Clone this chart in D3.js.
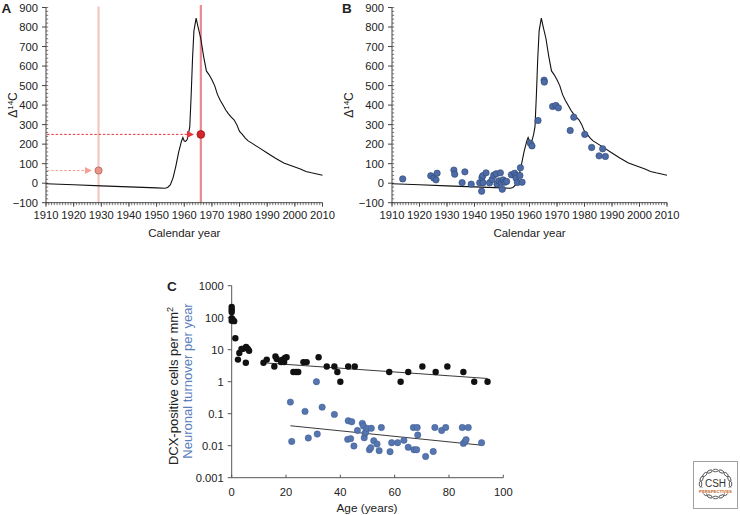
<!DOCTYPE html>
<html><head><meta charset="utf-8">
<script src="https://cdn.jsdelivr.net/npm/d3@7"></script>
<style>
body{margin:0;background:#fff}
svg{display:block}
text{font-family:"Liberation Sans",Arial,Helvetica,sans-serif;fill:#222}
</style>
</head><body>
<svg id="chart" width="740" height="515"></svg>
<script>
// ---- Data ----
const curveYears = [1910,1920,1930,1940,1950,1953,1954,1955,1956,1957,1958,1959,1959.5,1960,1960.5,1961,1961.5,1962,1962.5,1963,1963.5,1964.3,1965,1966,1967,1968,1969,1970,1971,1972,1973,1974,1975,1976,1977,1978,1979,1980,1981,1982,1983,1985,1987,1990,1993,1996,2000,2002,2004,2006,2008,2010];
const curveValues = [-3,-8,-14,-19,-24,-26,-22,-8,30,90,160,215,234,216,214,222,250,290,450,640,780,846,800,740,650,575,555,530,500,455,425,400,375,355,338,325,300,265,250,232,218,200,182,155,128,103,83,73,60,53,47,41];

const yearTicks = [1910,1920,1930,1940,1950,1960,1970,1980,1990,2000,2010];
const c14Ticks = [-100,0,100,200,300,400,500,600,700,800,900];

// panel A markers: birth years and the Δ14C they map to
const markerYears = [1929,1966];
const markerValues = [65,250];
const markerLabels = ["light","dark"];

// panel B measured samples
const sampleYears = [1913.9,1924.1,1925.2,1926,1926.4,1932.5,1932.8,1935.5,1936.5,1938.8,1941.9,1942.6,1942.7,1943,1943.1,1944.2,1945.5,1946.4,1947,1947.9,1948.2,1948.9,1949.4,1949.8,1950.1,1950.4,1951,1951.7,1953.4,1954.6,1955,1955.1,1955.6,1956.5,1956.7,1957.3,1960.3,1960.9,1963.1,1965.3,1965.4,1968.4,1969.6,1970.5,1974.8,1976.1,1980.1,1982.6,1985.3,1986.6,1987.6];
const sampleValues = [22,38,26,17,51,67,46,3,58,-5,2,-41,29,38,2,53,2,19,41,48,-5,12,53,3,-31,17,5,9,43,51,38,26,3,39,79,5,205,191,321,528,518,393,398,386,270,338,250,183,140,176,137];

// panel C
const dcxAges = [0,0,0,0,0.4,0.9,0,1.35,2.3,2.8,3.6,4.0,5.2,5.3,5.9,6.4,11.7,12.9,15.7,16.1,16.6,18.2,18.7,19.3,19.6,20.2,22.7,23.7,24.5,26.4,27.6,32,35,37.8,38.9,40,42.9,45.3,58,62.2,65,70.2,75.1,79.4,85.3,89.3,94.2];
const dcxValues = [216,179,150,97,87,78,80,22.8,4.9,7.9,10.6,10.6,3.9,12.2,10.8,9.3,3.9,4.9,3.0,6.1,5.1,4.1,4.9,4.1,5.5,5.8,2.0,2.0,2.0,4.1,4.1,5.8,3.0,3.0,2.0,1.0,3.0,3.0,2.0,1.0,2.0,3.0,2.0,3.0,2.0,1.0,1.0];
const turnoverAges = [31.2,21.6,22.1,27,28.2,31.5,33.3,37.8,42.9,44.2,42.7,43.8,45,46.3,48.1,48.5,48.8,49.1,49.4,49.9,50.7,51.2,51.4,52.3,53.5,54.3,55.1,58.3,58.9,61.1,63.4,65,66.9,67.1,68.1,68.3,68.5,71.4,74.2,74.8,77.3,78.8,84.9,85.3,85.9,86.3,87.1,92];
const turnoverValues = [1.0,0.23,0.0136,0.118,0.0174,0.0231,0.16,0.095,0.060,0.056,0.0158,0.0166,0.0098,0.030,0.050,0.041,0.0177,0.0243,0.027,0.0347,0.0075,0.0087,0.035,0.0143,0.0113,0.0070,0.037,0.0065,0.0124,0.0124,0.0147,0.0089,0.037,0.0075,0.0075,0.037,0.0215,0.0046,0.0066,0.037,0.030,0.037,0.037,0.0118,0.0133,0.0155,0.037,0.0124];
const dcxTrendAges = [11.7,94.2];
const dcxTrendValues = [3.9,1.26];
const turnoverTrendAges = [21.6,91.4];
const turnoverTrendValues = [0.042,0.0105];
const ageTicks = [0,20,40,60,80,100];
const logTicks = [0.001,0.01,0.1,1,10,100,1000];
const logTickLabels = ["0.001","0.01","0.1","1","10","100","1000"];

// ---- Drawing ----
const svg = d3.select("#chart");
const AXIS = "#444";

function yearAxis(g, x, y0, y) {
  const [x0, x1] = x.range();
  g.append("line").attr("x1", x0).attr("x2", x1).attr("y1", y0).attr("y2", y0).attr("stroke", AXIS).attr("stroke-width", 1);
  const minor = d3.range(1910, 2011, 1);
  g.selectAll("line.mn").data(minor).join("line").attr("class","mn")
    .attr("x1", d => x(d)).attr("x2", d => x(d)).attr("y1", y0).attr("y2", y0 + 2.5)
    .attr("stroke", AXIS).attr("stroke-width", 0.7);
  g.selectAll("line.mj").data(yearTicks).join("line").attr("class","mj")
    .attr("x1", d => x(d)).attr("x2", d => x(d)).attr("y1", y0).attr("y2", y0 + 4)
    .attr("stroke", AXIS).attr("stroke-width", 1);
  g.selectAll("text.tl").data(yearTicks).join("text").attr("class","tl")
    .attr("x", d => x(d)).attr("y", y0 + 16.5).attr("text-anchor","middle")
    .attr("font-size", 11.2).text(d => d);
  const [ya, yb] = y.range();
  const xa = x0;
  g.append("line").attr("x1", xa).attr("x2", xa).attr("y1", ya).attr("y2", yb).attr("stroke", AXIS).attr("stroke-width", 1);
  const yminor = d3.range(-100, 901, 20);
  g.selectAll("line.ymn").data(yminor).join("line").attr("class","ymn")
    .attr("x1", xa).attr("x2", xa + 2.2).attr("y1", d => y(d)).attr("y2", d => y(d))
    .attr("stroke", AXIS).attr("stroke-width", 0.7);
  g.selectAll("line.ymj").data(c14Ticks).join("line").attr("class","ymj")
    .attr("x1", xa - 4).attr("x2", xa).attr("y1", d => y(d)).attr("y2", d => y(d))
    .attr("stroke", AXIS).attr("stroke-width", 1);
  g.selectAll("text.ytl").data(c14Ticks).join("text").attr("class","ytl")
    .attr("x", xa - 8).attr("y", d => y(d)).attr("dy","0.36em").attr("text-anchor","end")
    .attr("font-size", 11.2).text(d => d < 0 ? "\u2212" + Math.abs(d) : d);
  g.append("text").attr("x", (x0 + x1) / 2).attr("y", 237).attr("text-anchor","middle")
    .attr("font-size", 11.5).text("Calendar year");
}

function deltaLabel(g, cx, cy) {
  const t = g.append("text").attr("transform", `translate(${cx},${cy}) rotate(-90)`)
    .attr("text-anchor","middle").attr("font-size", 12);
  t.append("tspan").text("\u0394");
  t.append("tspan").attr("dy", -4.5).attr("font-size", 8).text("14");
  t.append("tspan").attr("dy", 4.5).text("C");
}

const yC14 = d3.scaleLinear().domain([-100, 900]).range([202.7, 7.5]);
const curvePts = curveYears.map((yr, i) => [yr, curveValues[i]]);

// ---------- Panel A ----------
const xA = d3.scaleLinear().domain([1910, 2010]).range([46, 322.5]);
const gA = svg.append("g");
const markerColors = { light: { line: "#f3c7c1", arrow: "#f4a294", fill: "#e99585", stroke: "#b3655a" },
                       dark:  { line: "#e98a90", arrow: "#e3373b", fill: "#d4242c", stroke: "#9c1a1f" } };
markerYears.forEach((yr, i) => {
  const c = markerColors[markerLabels[i]];
  gA.append("line").attr("x1", xA(yr)).attr("x2", xA(yr)).attr("y1", i === 0 ? 6.5 : 5).attr("y2", yC14.range()[0])
    .attr("stroke", c.line).attr("stroke-width", 2.2);
});
yearAxis(gA, xA, 202.7, yC14);
gA.append("path").datum(curvePts)
  .attr("d", d3.line().x(d => xA(d[0])).y(d => yC14(d[1])))
  .attr("fill","none").attr("stroke","#111").attr("stroke-width", 1.1);
markerYears.forEach((yr, i) => {
  const c = markerColors[markerLabels[i]];
  const px = xA(yr), py = yC14(markerValues[i]);
  const r = i === 0 ? 3.6 : 3.9;
  const tip = px - r - 3;
  gA.append("line").attr("x1", xA.range()[0] + 1).attr("x2", tip - 5).attr("y1", py).attr("y2", py)
    .attr("stroke", c.arrow).attr("stroke-width", 1).attr("stroke-dasharray", "2.5,1.8");
  gA.append("path").attr("d", `M${tip},${py} L${tip - 7},${py - 3.6} L${tip - 7},${py + 3.6} Z`).attr("fill", c.arrow);
  gA.append("circle").attr("cx", px).attr("cy", py).attr("r", r)
    .attr("fill", c.fill).attr("stroke", c.stroke).attr("stroke-width", 0.8);
});
deltaLabel(gA, 17, 105);
gA.append("text").attr("x", 1.5).attr("y", 13).attr("font-size", 13.5).attr("font-weight","bold").text("A");

// ---------- Panel B ----------
const xB = d3.scaleLinear().domain([1910, 2010]).range([392, 667]);
const gB = svg.append("g");
yearAxis(gB, xB, 202.7, yC14);
gB.append("path").datum(curvePts)
  .attr("d", d3.line().x(d => xB(d[0])).y(d => yC14(d[1])))
  .attr("fill","none").attr("stroke","#111").attr("stroke-width", 1.1);
gB.selectAll("circle").data(sampleYears.map((yr, i) => [yr, sampleValues[i]])).join("circle")
  .attr("cx", d => xB(d[0])).attr("cy", d => yC14(d[1])).attr("r", 3.2)
  .attr("fill", "#4d6ba6").attr("stroke", "#2c4473").attr("stroke-width", 0.6);
deltaLabel(gB, 353, 105);
gB.append("text").attr("x", 342).attr("y", 13).attr("font-size", 13.5).attr("font-weight","bold").text("B");

// ---------- Panel C ----------
const xC = d3.scaleLinear().domain([0, 100]).range([231.7, 503.3]);
const yC = d3.scaleLog().domain([0.001, 1000]).range([477.7, 285.7]);
const gC = svg.append("g");
const CAX = "#555";
gC.append("line").attr("x1", xC(0)).attr("x2", xC(100)).attr("y1", yC(0.001)).attr("y2", yC(0.001)).attr("stroke", CAX);
gC.append("line").attr("x1", xC(0)).attr("x2", xC(0)).attr("y1", yC(0.001)).attr("y2", yC(1000)).attr("stroke", CAX);
gC.selectAll("line.xt").data(ageTicks).join("line").attr("class","xt")
  .attr("x1", d => xC(d)).attr("x2", d => xC(d)).attr("y1", yC(0.001)).attr("y2", yC(0.001) - 3).attr("stroke", CAX);
gC.selectAll("line.yt").data(logTicks).join("line").attr("class","yt")
  .attr("x1", xC(0) - 4).attr("x2", xC(0)).attr("y1", d => yC(d)).attr("y2", d => yC(d)).attr("stroke", CAX);
gC.selectAll("text.xl").data(ageTicks).join("text").attr("class","xl")
  .attr("x", d => xC(d)).attr("y", 496).attr("text-anchor","middle").attr("font-size", 11.2).text(d => d);
gC.selectAll("text.yl").data(logTicks).join("text").attr("class","yl")
  .attr("x", xC(0) - 8).attr("y", d => yC(d)).attr("dy","0.36em").attr("text-anchor","end")
  .attr("font-size", 11.2).text((d, i) => logTickLabels[i]);
gC.append("text").attr("x", 367).attr("y", 512).attr("text-anchor","middle").attr("font-size", 11.8).text("Age (years)");
const yl1 = gC.append("text").attr("transform","translate(177.5,386) rotate(-90)").attr("text-anchor","middle").attr("font-size", 13);
yl1.append("tspan").text("DCX-positive cells per mm");
yl1.append("tspan").attr("dy", -5).attr("font-size", 9).text("2");
gC.append("text").attr("transform","translate(191.5,381) rotate(-90)").attr("text-anchor","middle").attr("font-size", 13)
  .style("fill", "#5b7fbd").text("Neuronal turnover per year");
gC.append("text").attr("x", 167).attr("y", 291).attr("font-size", 13.5).attr("font-weight","bold").text("C");

const logLine = d3.line().x(d => xC(d[0])).y(d => yC(d[1]));
gC.append("path").datum(dcxTrendAges.map((a, i) => [a, dcxTrendValues[i]])).attr("d", logLine)
  .attr("fill","none").attr("stroke","#222").attr("stroke-width", 0.9);
gC.append("path").datum(turnoverTrendAges.map((a, i) => [a, turnoverTrendValues[i]])).attr("d", logLine)
  .attr("fill","none").attr("stroke","#222").attr("stroke-width", 0.9);
gC.selectAll("circle.dcx").data(dcxAges.map((a, i) => [a, dcxValues[i]])).join("circle").attr("class","dcx")
  .attr("cx", d => xC(d[0])).attr("cy", d => yC(d[1])).attr("r", 3.2).attr("fill", "#111");
gC.selectAll("circle.tov").data(turnoverAges.map((a, i) => [a, turnoverValues[i]])).join("circle").attr("class","tov")
  .attr("cx", d => xC(d[0])).attr("cy", d => yC(d[1])).attr("r", 3.2)
  .attr("fill", "#5676b0").attr("stroke", "#3d5b93").attr("stroke-width", 0.5);

// ---------- Logo ----------
const gL = svg.append("g");
gL.append("rect").attr("x", 693.5).attr("y", 461.5).attr("width", 44).attr("height", 47)
  .attr("fill","#fff").attr("stroke","#a0a0a0").attr("stroke-width", 1);
const ring = d3.range(0, 360, 22.5);
gL.selectAll("ellipse").data(ring).join("ellipse")
  .attr("transform", d => `translate(${715.5 + 15 * Math.cos(d * Math.PI / 180)},${484 + 13.5 * Math.sin(d * Math.PI / 180)}) rotate(${d + 90})`)
  .attr("rx", 2.6).attr("ry", 1.3).attr("fill","none").attr("stroke","#333").attr("stroke-width", 0.8);
gL.append("rect").attr("x", 697).attr("y", 487.5).attr("width", 37).attr("height", 6).attr("fill","#fff");
gL.append("text").attr("x", 715.5).attr("y", 487).attr("text-anchor","middle").attr("font-size", 10).style("fill","#333").text("CSH");
gL.append("text").attr("x", 715.5).attr("y", 492.5).attr("text-anchor","middle").attr("font-size", 4.3).attr("font-weight","bold")
  .style("fill","#c8651f").text("PERSPECTIVES");
</script>
</body></html>
